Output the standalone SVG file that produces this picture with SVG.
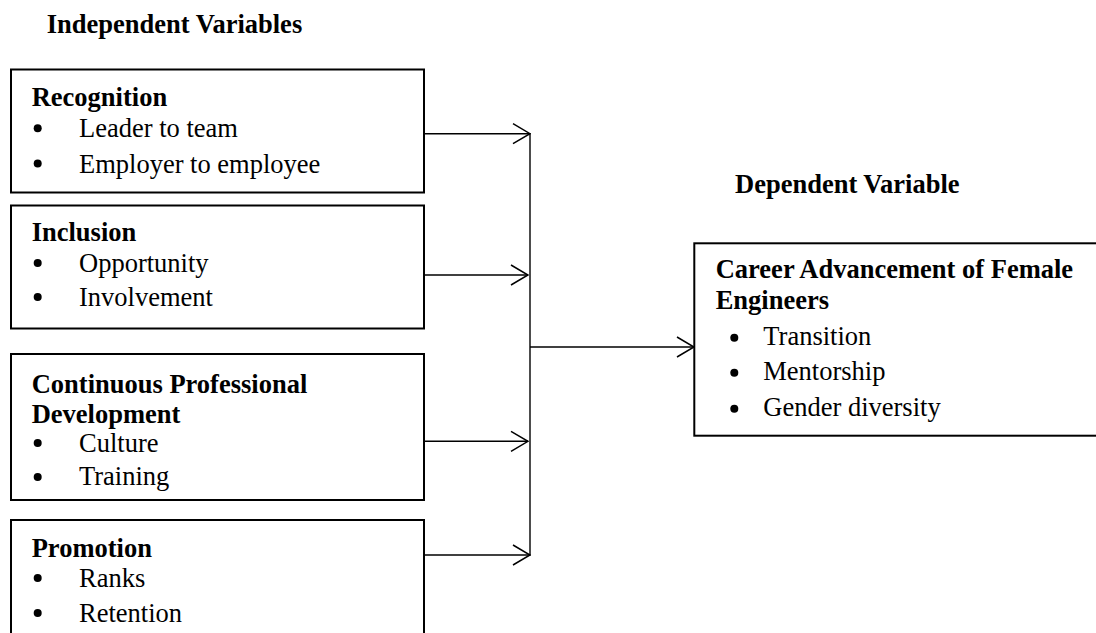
<svg xmlns="http://www.w3.org/2000/svg" width="1096" height="633" viewBox="0 0 1096 633">
<style>
  text { font-family: "Liberation Serif", "Times New Roman", serif; font-size: 26.5px; fill: #000; }
  .b { font-weight: bold; }
  .box { fill: #fff; stroke: #000; stroke-width: 2; }
  .dot { fill: #000; }
  .conn { stroke: #000; stroke-width: 1.4; fill: none; }
</style>
<defs>
  <marker id="arr" markerUnits="userSpaceOnUse" viewBox="0 0 19 22" refX="18" refY="11" markerWidth="19" markerHeight="22" orient="auto">
    <path d="M1,1 L18,11 L1,21" fill="none" stroke="#000" stroke-width="1.5"/>
  </marker>
</defs>
<rect width="1096" height="633" fill="#fff"/>

<text id="title-independent" class="b" x="46.7" y="32.5">Independent Variables</text>
<text id="title-dependent" class="b" x="735" y="193.3">Dependent Variable</text>

<g id="connectors">
  <line class="conn" x1="424" y1="133.7" x2="530" y2="133.7" marker-end="url(#arr)"/>
  <line class="conn" x1="424" y1="275" x2="528" y2="275" marker-end="url(#arr)"/>
  <line class="conn" x1="424" y1="441.3" x2="528" y2="441.3" marker-end="url(#arr)"/>
  <line class="conn" x1="424" y1="555" x2="530" y2="555" marker-end="url(#arr)"/>
  <line class="conn" x1="530" y1="133" x2="530" y2="555.7"/>
  <line class="conn" x1="530" y1="347" x2="694" y2="347" marker-end="url(#arr)"/>
</g>

<g id="recognition">
  <rect class="box" x="11" y="69.5" width="413" height="123"/>
  <text class="b" x="31.7" y="106">Recognition</text>
  <circle class="dot" cx="37.7" cy="128.3" r="4"/>
  <text x="79" y="137">Leader to team</text>
  <circle class="dot" cx="37.7" cy="163.5" r="4"/>
  <text x="79" y="173">Employer to employee</text>
</g>

<g id="inclusion">
  <rect class="box" x="11" y="205.5" width="413" height="123"/>
  <text class="b" x="31.7" y="240.7">Inclusion</text>
  <circle class="dot" cx="37.7" cy="263" r="4"/>
  <text x="79" y="271.7">Opportunity</text>
  <circle class="dot" cx="37.7" cy="297" r="4"/>
  <text x="79" y="306">Involvement</text>
</g>

<g id="cpd">
  <rect class="box" x="11" y="354" width="413" height="146"/>
  <text class="b" x="31.7" y="393.3">Continuous Professional</text>
  <text class="b" x="31.7" y="423">Development</text>
  <circle class="dot" cx="37.7" cy="443" r="4"/>
  <text x="79" y="451.7">Culture</text>
  <circle class="dot" cx="37.7" cy="477" r="4"/>
  <text x="79" y="485">Training</text>
</g>

<g id="promotion">
  <rect class="box" x="11" y="520" width="413" height="140"/>
  <text class="b" x="31.7" y="556.7">Promotion</text>
  <circle class="dot" cx="37.7" cy="578" r="4"/>
  <text x="79" y="586.7">Ranks</text>
  <circle class="dot" cx="37.7" cy="613" r="4"/>
  <text x="79" y="621.7">Retention</text>
</g>

<g id="career">
  <rect class="box" x="694.3" y="243.3" width="420" height="192.4"/>
  <text class="b" x="715.7" y="278.3">Career Advancement of Female</text>
  <text class="b" x="715.7" y="309.3">Engineers</text>
  <circle class="dot" cx="734.3" cy="337.7" r="4"/>
  <text x="763.3" y="345">Transition</text>
  <circle class="dot" cx="734.3" cy="372.7" r="4"/>
  <text x="763.3" y="380">Mentorship</text>
  <circle class="dot" cx="734.3" cy="408.7" r="4"/>
  <text x="763.3" y="416">Gender diversity</text>
</g>
</svg>
